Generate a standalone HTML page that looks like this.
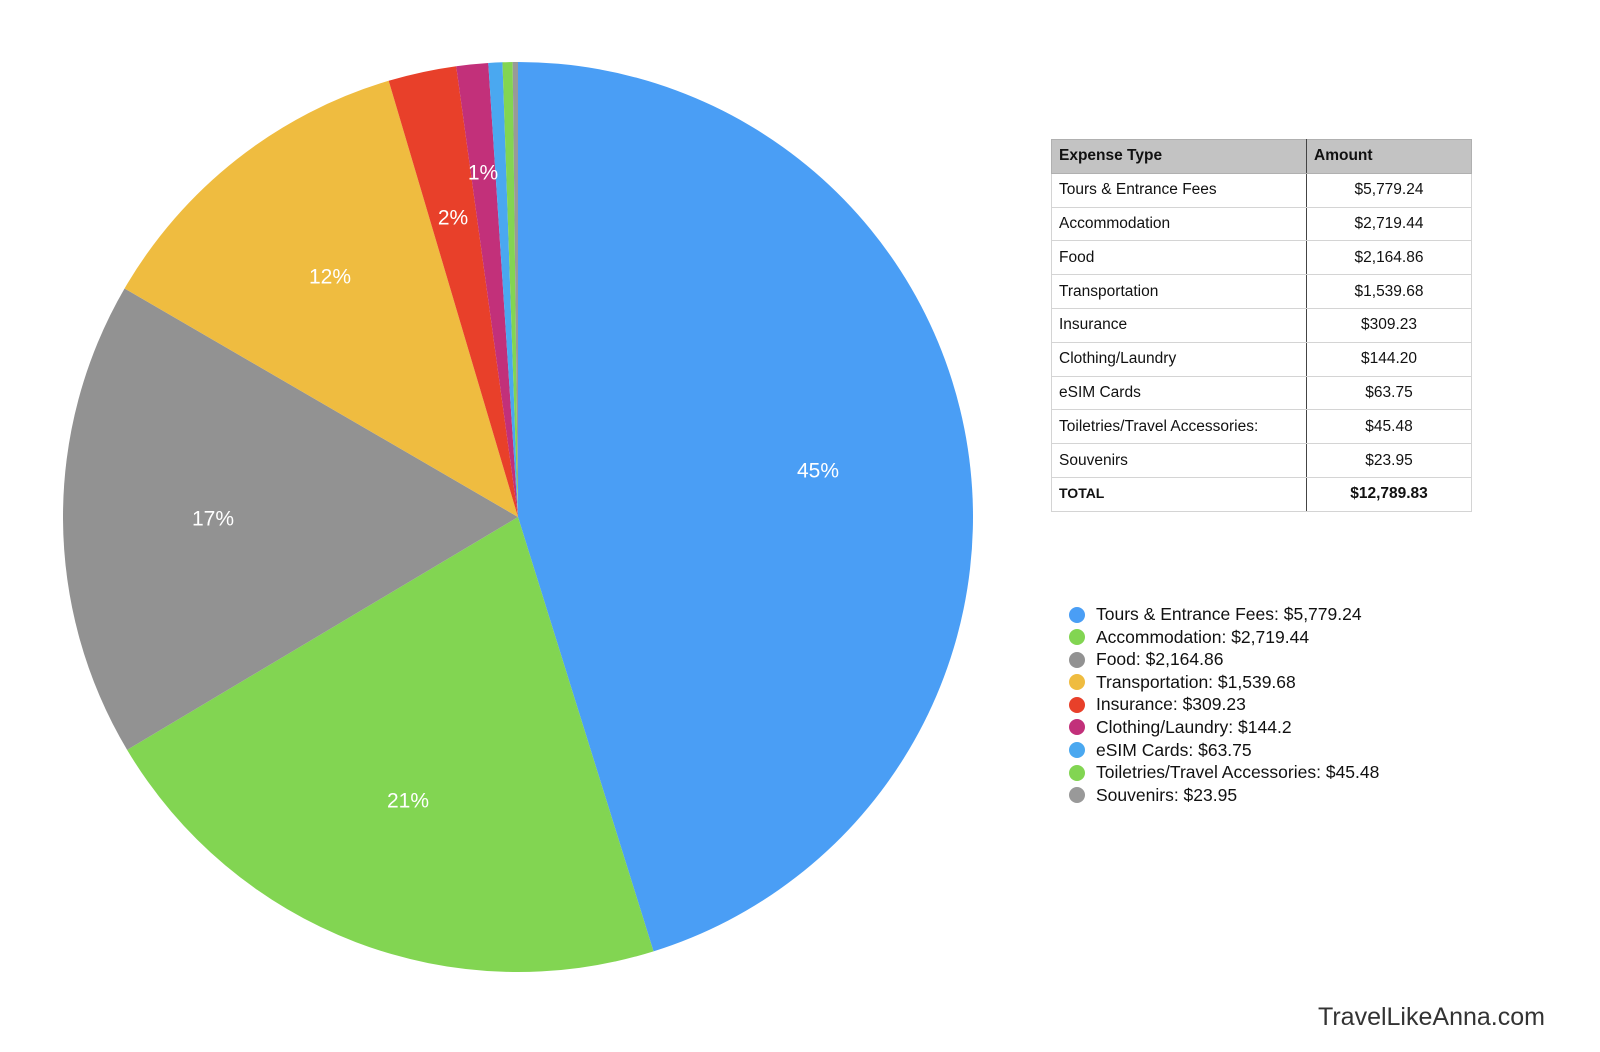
<!DOCTYPE html>
<html><head><meta charset="utf-8"><style>
body{margin:0;width:1600px;height:1052px;background:#fff;position:relative;overflow:hidden;font-family:"Liberation Sans",Arial,sans-serif}
table{position:absolute;left:1051px;top:139px;border-collapse:collapse;font-size:15.5px;color:#111}
td,th{height:33.8px;padding:0 7px;border:1px solid #d4d4d4;box-sizing:border-box}
th{background:#c3c3c3;text-align:left;font-weight:bold;border-color:#b0b0b0}
td.a{text-align:center}
td:first-child,th:first-child{width:255px;border-right:1.5px solid #444}
td:last-child,th:last-child{width:165px}
.lg{position:absolute;left:1068px;top:603px;font-size:17.5px;color:#111}
.lg div{height:22.6px;line-height:22.6px;position:relative;padding-left:28px}
.lg span{position:absolute;left:1px;top:3.5px;width:16px;height:16px;border-radius:50%}
.wm{position:absolute;left:1318px;top:1003px;font-size:25px;color:#333}
</style></head><body>
<svg id="pie" width="1000" height="1052" style="position:absolute;left:0;top:0"></svg>
<table>
<tr><th>Expense Type</th><th>Amount</th></tr>
<tr><td>Tours &amp; Entrance Fees</td><td class="a">$5,779.24</td></tr>
<tr><td>Accommodation</td><td class="a">$2,719.44</td></tr>
<tr><td>Food</td><td class="a">$2,164.86</td></tr>
<tr><td>Transportation</td><td class="a">$1,539.68</td></tr>
<tr><td>Insurance</td><td class="a">$309.23</td></tr>
<tr><td>Clothing/Laundry</td><td class="a">$144.20</td></tr>
<tr><td>eSIM Cards</td><td class="a">$63.75</td></tr>
<tr><td>Toiletries/Travel Accessories:</td><td class="a">$45.48</td></tr>
<tr><td>Souvenirs</td><td class="a">$23.95</td></tr>
<tr><td><b style="font-size:14px">TOTAL</b></td><td class="a"><b>$12,789.83</b></td></tr>
</table>
<div class="lg">
<div><span style="background:#4a9ef5"></span>Tours &amp; Entrance Fees: $5,779.24</div>
<div><span style="background:#82d552"></span>Accommodation: $2,719.44</div>
<div><span style="background:#929292"></span>Food: $2,164.86</div>
<div><span style="background:#efbc40"></span>Transportation: $1,539.68</div>
<div><span style="background:#e8402a"></span>Insurance: $309.23</div>
<div><span style="background:#c2307a"></span>Clothing/Laundry: $144.2</div>
<div><span style="background:#4aa8f0"></span>eSIM Cards: $63.75</div>
<div><span style="background:#82d552"></span>Toiletries/Travel Accessories: $45.48</div>
<div><span style="background:#999999"></span>Souvenirs: $23.95</div>
</div>
<div class="wm">TravelLikeAnna.com</div>
<script>
var v=[5779.24,2719.44,2164.86,1539.68,309.23,144.2,63.75,45.48,23.95];
var c=["#4a9ef5","#82d552","#929292","#efbc40","#e8402a","#c2307a","#4aa8f0","#82d552","#999999"];
var lab=[["45%",818,472],["21%",408,802],["17%",213,520],["12%",330,278],["2%",453,219],["1%",483,174]];
var t=v.reduce(function(a,b){return a+b},0),cx=518,cy=517,r=455,a=0,s="";
for(var i=0;i<v.length;i++){var a2=a+v[i]/t*2*Math.PI;
var x1=cx+r*Math.sin(a),y1=cy-r*Math.cos(a),x2=cx+r*Math.sin(a2),y2=cy-r*Math.cos(a2);
s+='<path d="M'+cx+','+cy+'L'+x1+','+y1+'A'+r+','+r+' 0 '+(a2-a>Math.PI?1:0)+' 1 '+x2+','+y2+'Z" fill="'+c[i]+'"/>';a=a2;}
lab.forEach(function(l){s+='<text x="'+l[1]+'" y="'+l[2]+'" fill="#fff" font-size="21" text-anchor="middle" dominant-baseline="middle" font-family="Liberation Sans, sans-serif">'+l[0]+'</text>'});
document.getElementById("pie").innerHTML=s;
</script>
</body></html>
